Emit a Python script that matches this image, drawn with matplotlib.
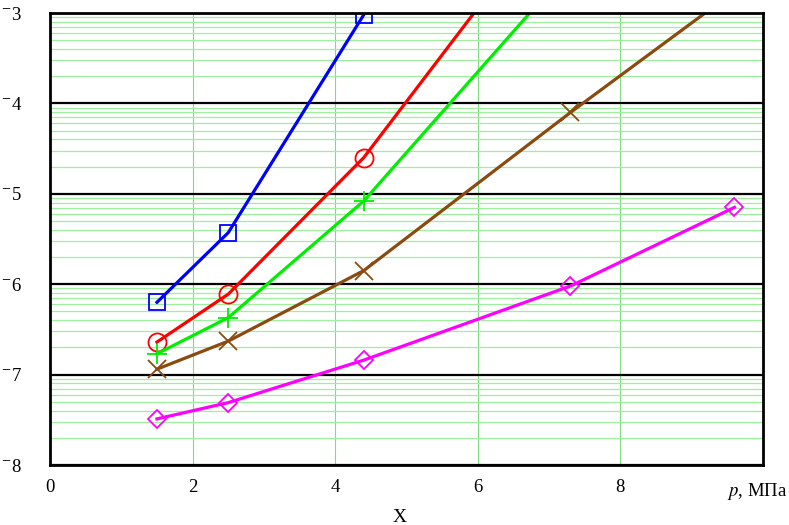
import numpy as np
import matplotlib
matplotlib.use("Agg")
from matplotlib import pyplot as plt
from matplotlib.ticker import FixedLocator, LogLocator, NullFormatter

plt.rcParams['font.family'] = ['Liberation Serif', 'DejaVu Serif']
plt.rcParams['mathtext.fontset'] = 'stix'

# pressure, MPa
p = [1.5, 2.5, 4.4, 7.3, 9.6]

# exponents (values are 10**exp)
exp_blue = [-6.20, -5.43, -3.02]
exp_red = [-6.64, -6.11, -4.60, -1.60]
exp_green = [-6.77, -6.37, -5.08, -2.49]
exp_brown = [-6.94, -6.63, -5.85, -4.10, -2.76]
exp_magenta = [-7.49, -7.31, -6.84, -6.02, -5.15]

xticks = [0, 2, 4, 6, 8]
ydecades = [-8, -7, -6, -5, -4, -3]

fig = plt.figure(figsize=(7.89, 5.25), dpi=100)
ax = fig.add_axes([50/789, 1-465/525, 713/789, 452/525])

ax.set_yscale('log')
ax.set_xlim(0, 10)
ax.set_ylim(1e-8, 1e-3)

# grid
ax.yaxis.set_minor_locator(LogLocator(base=10, subs=np.arange(2, 10)))
ax.yaxis.set_minor_formatter(NullFormatter())
ax.grid(True, which='minor', axis='y', color='#9ef09e', lw=0.9)
ax.grid(True, which='major', axis='y', color='black', lw=1.6)
ax.xaxis.set_major_locator(FixedLocator(xticks))
ax.grid(True, which='major', axis='x', color='#7fdc7f', lw=0.8)
ax.set_axisbelow(True)

series = [
    (p[:3], exp_blue, 'blue', 's', 'none', 12),
    (p[:4], exp_red, 'red', 'o', 'none', 13),
    (p[:4], exp_green, '#00ee00', '+', 'none', 15),
    (p, exp_brown, '#8b4a10', 'x', 'none', 13),
    (p, exp_magenta, 'magenta', 'D', 'none', 9),
]
for xs, es, col, mk, fc, ms in series:
    ax.plot(xs, 10.0 ** np.array(es), color=col, lw=2.3, marker=mk,
            mfc=fc, mec=col, ms=ms, mew=1.3)

ax.set_xticks(xticks)
ax.set_xticklabels([str(t) for t in xticks], fontsize=13.5)
ax.set_yticks([10.0 ** d for d in ydecades])
ax.set_yticklabels([r'$^{-}$' + str(-d) for d in ydecades], fontsize=13.5, ha='left')
ax.tick_params(axis='both', which='both', length=0)
ax.tick_params(axis='x', pad=10)
ax.tick_params(axis='y', pad=35)

for s in ax.spines.values():
    s.set_linewidth(2)
    s.set_color('black')

fig.text(757/789, 1-492/525, r'$p$, МПа', fontsize=13.5, ha='center', va='center')
fig.text(400/789, 1-518/525, 'X', fontsize=14, ha='center', va='center')

fig.savefig('out.png', dpi=100)
